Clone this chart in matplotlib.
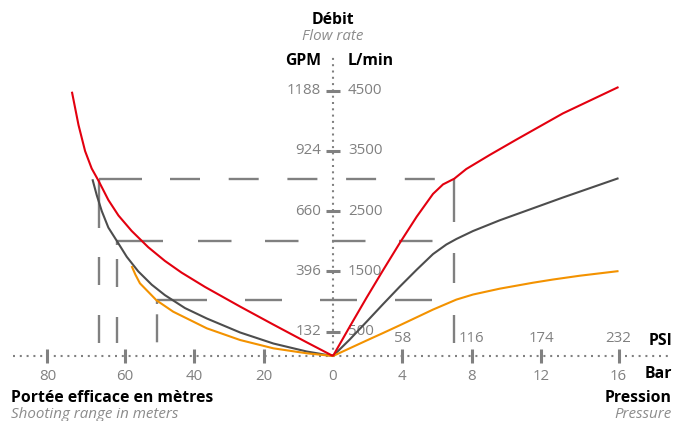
import numpy as np
import matplotlib
matplotlib.use("Agg")
import matplotlib.pyplot as plt

# DONNEES
# courbes debit / pression (droite), bar -> L/min
bar_rouge = [0, 0.96, 1.94, 2.89, 3.85, 4.83, 5.77, 6.35, 7, 7.69, 9.04, 10.58,
             13.13, 16]
q_rouge_p = [0, 581, 1066, 1521, 1971, 2409, 2787, 2945, 3040, 3200, 3433, 3688,
             4123, 4561]
bar_gris = [0, 0.96, 1.94, 2.89, 3.85, 4.83, 5.77, 6.54, 7.12, 8.08, 9.62, 11.54,
            13.13, 16]
q_gris_p = [0, 337, 666, 958, 1247, 1529, 1788, 1947, 2039, 2171, 2349, 2548,
            2727, 3048]
bar_orange = [0, 0.96, 1.94, 2.89, 3.85, 4.83, 5.77, 7.12, 8.08, 9.62, 11.54,
              12.62, 14.0, 16]
q_orange_p = [0, 158, 319, 473, 606, 739, 867, 1033, 1117, 1214, 1313,
              1366, 1429, 1506]

# courbes portee / debit (gauche), metres -> L/min
m_rouge = [73.7, 72.0, 70.3, 68.6, 66.8, 64.3, 61.7, 58.1, 53.3, 48.5, 43.7,
           36.9, 26.8, 17.3, 7.6, 0]
q_rouge_m = [4483, 3931, 3498, 3209, 3001, 2686, 2429, 2173, 1902, 1675, 1481,
             1242, 917, 621, 282, 0]
m_gris = [68.4, 67.3, 66.0, 64.3, 62.1, 59.5, 56.2, 52.3, 48.5, 42.7, 36.4,
          26.8, 17.2, 7.6, 0]
q_gris_m = [3030, 2767, 2502, 2228, 2005, 1743, 1502, 1280, 1107, 892, 719,
            484, 257, 93, 0]
m_orange = [58.1, 57.0, 55.7, 50.9, 46.1, 36.4, 26.8, 17.2, 7.6, 0]
q_orange_m = [1590, 1446, 1303, 1020, 832, 556, 329, 158, 56, 0]

# lignes de lecture a 7 bar
p_lecture = 7
q_lecture = [3030, 2010, 1020]
m_lecture = [66.7, 62.1, 50.9]
q_bas = 267

# graduations
lmin_ticks = [500, 1500, 2500, 3500, 4500]
gpm_labels = ["132", "396", "660", "924", "1188"]
bar_ticks = [4, 8, 12, 16]
psi_labels = ["58", "116", "174", "232"]
m_ticks = [20, 40, 60, 80]

ROUGE = "#e3000f"
GRIS = "#4d4d4d"
ORANGE = "#f39200"
TRAIT = "#808080"
TXT = "#808080"

plt.rcParams["font.family"] = ["Open Sans", "DejaVu Sans"]
plt.rcParams["lines.scale_dashes"] = False


# echelles par morceaux (les graduations extremes sont un peu ecartees)
def fx(u):
    u = np.asarray(u, float)
    a = np.abs(u)
    return np.where(a > 12, np.sign(u) * (12 + (a - 12) * 1.119), u)


def ix(t):
    t = np.asarray(t, float)
    a = np.abs(t)
    return np.where(a > 12, np.sign(t) * (12 + (a - 12) / 1.119), t)


def fy(q):
    q = np.asarray(q, float)
    return np.where(q > 500, 24.3 + (q - 500) * 0.06025, q * 0.0486)


def iy(h):
    h = np.asarray(h, float)
    return np.where(h > 24.3, 500 + (h - 24.3) / 0.06025, h / 0.0486)


def px(seq):
    return (0, [v * 0.72 for v in seq])


fig = plt.figure(figsize=(6.74, 4.21), dpi=100)
ax = fig.add_axes([0, 0, 1, 1])
ax.set_xscale("function", functions=(fx, ix))
ax.set_yscale("function", functions=(fy, iy))
ax.set_xlim(-18.448, 18.861)
ax.set_ylim(-1337.4, 6005.4)
ax.axis("off")

# axes pointilles
ax.axhline(0, xmin=13 / 674, xmax=672 / 674, color=TRAIT, lw=1.5,
           linestyle=px([2, 4.8]), zorder=1)
ax.axvline(0, ymin=65 / 421, ymax=366 / 421, color=TRAIT, lw=1.5,
           linestyle=px([2, 4.3]), zorder=1)

# graduations
ax.plot(np.zeros(len(lmin_ticks)), lmin_ticks, ls="none", marker="_",
        ms=9.5, mew=2.2, color=TRAIT, zorder=2)
xt = bar_ticks + [-m / 5 for m in m_ticks]
ax.plot(xt, np.zeros(len(xt)), ls="none", marker="|",
        ms=10, mew=2.2, color=TRAIT, zorder=2)

# lignes de lecture (tirets)
tirets_h = [[43, 28] + [30, 28.7] * 5,
            [46, 35] + [33.5, 33.5] * 4,
            [50, 38] + [37, 38] * 3]
tirets_v = [[49, 29, 28, 30, 28, 60],
            [4, 14, 28, 30, 28, 60],
            [4, 10.3, 28, 60]]
for q, m, th, tv in zip(q_lecture, m_lecture, tirets_h, tirets_v):
    ax.plot([-m / 5, p_lecture], [q, q], color=TRAIT, lw=1.7,
            linestyle=px(th), dash_capstyle="butt", zorder=3)
    ax.plot([-m / 5, -m / 5], [q, q_bas], color=TRAIT, lw=1.7,
            linestyle=px(tv), dash_capstyle="butt", zorder=3)
ax.plot([p_lecture, p_lecture], [q_lecture[0], q_bas], color=TRAIT, lw=1.7,
        linestyle=px([43, 31, 30, 32, 28, 60]), dash_capstyle="butt", zorder=3)

# courbes
kw = dict(lw=1.5, solid_joinstyle="round", solid_capstyle="butt")
ax.plot(bar_rouge, q_rouge_p, color=ROUGE, zorder=5, **kw)
ax.plot(bar_gris, q_gris_p, color=GRIS, zorder=4, **kw)
ax.plot(bar_orange, q_orange_p, color=ORANGE, zorder=4, **kw)
ax.plot([-m / 5 for m in m_rouge], q_rouge_m, color=ROUGE, zorder=5, **kw)
ax.plot([-m / 5 for m in m_gris], q_gris_m, color=GRIS, zorder=4, **kw)
ax.plot([-m / 5 for m in m_orange], q_orange_m, color=ORANGE, zorder=4, **kw)

# etiquettes des graduations
fs = 10.8
for q, g in zip(lmin_ticks, gpm_labels):
    ax.annotate(g, (0, q), xytext=(-12, 0), textcoords="offset pixels",
                ha="right", va="center", fontsize=fs, color=TXT)
    ax.annotate(str(q), (0, q), xytext=(15, 0), textcoords="offset pixels",
                ha="left", va="center", fontsize=fs, color=TXT)
for b, p in zip(bar_ticks, psi_labels):
    ax.annotate(p, (b, 0), xytext=(0, 18), textcoords="offset pixels",
                ha="center", va="center", fontsize=fs, color=TXT)
    ax.annotate(str(b), (b, 0), xytext=(0, -20), textcoords="offset pixels",
                ha="center", va="center", fontsize=fs, color=TXT)
for m in m_ticks:
    ax.annotate(str(m), (-m / 5, 0), xytext=(0, -20), textcoords="offset pixels",
                ha="center", va="center", fontsize=fs, color=TXT)
ax.annotate("0", (0, 0), xytext=(0, -20), textcoords="offset pixels",
            ha="center", va="center", fontsize=fs, color=TXT)


# titres
def fig_txt(x, y, s, ha, bold=True):
    if bold:
        fig.text(x / 674, 1 - y / 421, s, ha=ha, va="center", fontsize=11.3,
                 fontweight="bold", color="black")
    else:
        fig.text(x / 674, 1 - y / 421, s, ha=ha, va="center", fontsize=10.9,
                 style="italic", color="#8c8c8c")


fig_txt(333, 20, "Débit", "center")
fig_txt(333, 37, "Flow rate", "center", bold=False)
fig_txt(321, 61, "GPM", "right")
fig_txt(348, 61, "L/min", "left")
fig_txt(672, 341, "PSI", "right")
fig_txt(672, 374, "Bar", "right")
fig_txt(11, 398, "Portée efficace en mètres", "left")
fig_txt(11, 414, "Shooting range in meters", "left", bold=False)
fig_txt(672, 398, "Pression", "right")
fig_txt(672, 414, "Pressure", "right", bold=False)

plt.savefig("out.png", dpi=100)
